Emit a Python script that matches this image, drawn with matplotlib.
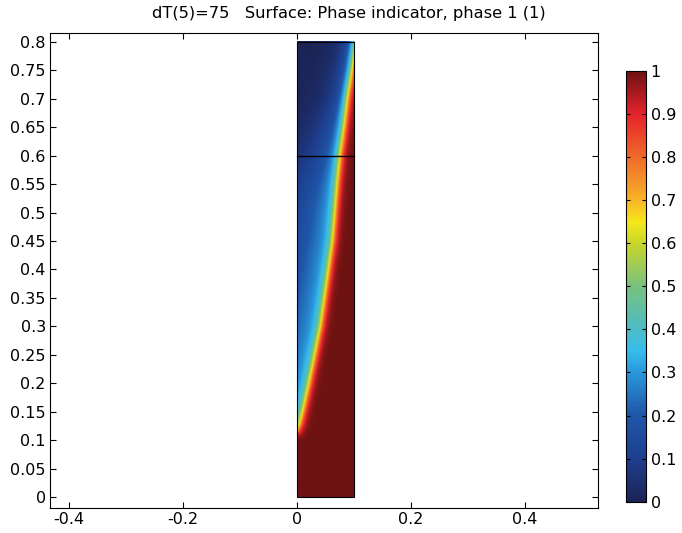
import numpy as np
import matplotlib
matplotlib.use("Agg")
import matplotlib.pyplot as plt
from matplotlib.colors import LinearSegmentedColormap
from matplotlib.patches import Rectangle

plt.rcParams["font.family"] = ["DejaVu Sans"]
plt.rcParams["axes.unicode_minus"] = False

TITLE = "dT(5)=75   Surface: Phase indicator, phase 1 (1)"

# domain (m)
DOMAIN_X = [0.0, 0.1]
DOMAIN_Y = [0.0, 0.8]
SPLIT_Y = 0.6

# interface (phase = 0.5)
IFACE_Y = [0.118, 0.122, 0.13, 0.15, 0.2, 0.25, 0.3, 0.35, 0.4, 0.45,
           0.5, 0.55, 0.6, 0.65, 0.7, 0.75, 0.78, 0.8]
IFACE_X = [0.0, 0.002, 0.005, 0.010, 0.021, 0.031, 0.041, 0.048, 0.055, 0.062,
           0.066, 0.070, 0.075, 0.082, 0.088, 0.096, 0.100, 0.103]

# light-phase halo on the blue side: decay length vs height
HALO_Y = [0.1, 0.3, 0.5, 0.6, 0.7, 0.8]
HALO_L = [0.09, 0.09, 0.07, 0.04, 0.022, 0.016]
HALO_A = 0.36
IFACE_W = 0.009

CB_TICKS = [0, 0.1, 0.2, 0.3, 0.4, 0.5, 0.6, 0.7, 0.8, 0.9, 1.0]
Y_TICKS = np.round(np.arange(0, 0.8001, 0.05), 2)
X_TICKS = [-0.4, -0.2, 0, 0.2, 0.4]

# COMSOL-like rainbow
CMAP_POS = [0.0, 0.1, 0.2, 0.3, 0.35, 0.4, 0.5, 0.6, 0.65, 0.7, 0.8, 0.9, 1.0]
CMAP_COL = ["#1c2456", "#1e3f8f", "#1f56a8", "#2a98dc", "#36bdec", "#4cbcc4",
            "#79c17e", "#c8d62a", "#f6e71a", "#f8b428", "#f06a2a", "#e6232b",
            "#6e1212"]
cmap = LinearSegmentedColormap.from_list("rainbow_c", list(zip(CMAP_POS, CMAP_COL)))


def build_field(nx=120, ny=960):
    xs = np.linspace(DOMAIN_X[0], DOMAIN_X[1], nx)
    ys = np.linspace(DOMAIN_Y[0], DOMAIN_Y[1], ny)
    X, Y = np.meshgrid(xs, ys)
    cy = np.linspace(IFACE_Y[0], IFACE_Y[-1], 400)
    cx = np.interp(cy, IFACE_Y, IFACE_X)
    dist = np.empty_like(X)
    for i in range(ny):
        dx = X[i][:, None] - cx[None, :]
        dy = Y[i][:, None] - cy[None, :]
        dist[i] = np.sqrt(dx ** 2 + dy ** 2).min(axis=1)
    xi = np.interp(Y, IFACE_Y, IFACE_X)
    red = (X > xi) | (Y < IFACE_Y[0])
    d = np.where(red, dist, -dist)
    s = 0.5 * (1 + np.tanh(d / IFACE_W))
    L = np.interp(Y, HALO_Y, HALO_L)
    h = HALO_A * np.exp(np.minimum(d, 0) / L)
    return s + (1 - s) * h


field = build_field()

fig = plt.figure(figsize=(6.82, 5.33), dpi=100)
ax = fig.add_axes([0.0733, 0.0469, 0.8035, 0.8917])
im = ax.imshow(field, origin="lower", cmap=cmap, vmin=0, vmax=1,
               extent=[DOMAIN_X[0], DOMAIN_X[1], DOMAIN_Y[0], DOMAIN_Y[1]],
               interpolation="bilinear", aspect="auto")
ax.add_patch(Rectangle((DOMAIN_X[0], DOMAIN_Y[0]), DOMAIN_X[1] - DOMAIN_X[0],
                       DOMAIN_Y[1] - DOMAIN_Y[0], fill=False, ec="black", lw=0.8))
ax.plot(DOMAIN_X, [SPLIT_Y, SPLIT_Y], color="black", lw=1.0)

ax.set_xlim(-0.433, 0.528)
ax.set_ylim(-0.0193, 0.816)
ax.set_xticks(X_TICKS)
ax.set_xticklabels([f"{v:g}" for v in X_TICKS])
ax.set_yticks(Y_TICKS)
ax.set_yticklabels([f"{v:g}" for v in Y_TICKS])
ax.tick_params(direction="in", length=4, top=True, right=True, labelsize=11.5,
               width=0.8, pad=3)
for sp in ax.spines.values():
    sp.set_linewidth(0.8)
fig.text(0.511, 0.975, TITLE, fontsize=11.7, ha="center", va="center")

cax = fig.add_axes([0.918, 0.0587, 0.0289, 0.8086])
cb = fig.colorbar(im, cax=cax, ticks=CB_TICKS)
cb.ax.set_yticklabels([f"{v:g}" for v in CB_TICKS])
cb.ax.tick_params(direction="in", length=3, left=True, right=True, labelsize=11.5,
                  width=0.8)
cb.outline.set_linewidth(0.8)

fig.savefig("out.png", dpi=100)
